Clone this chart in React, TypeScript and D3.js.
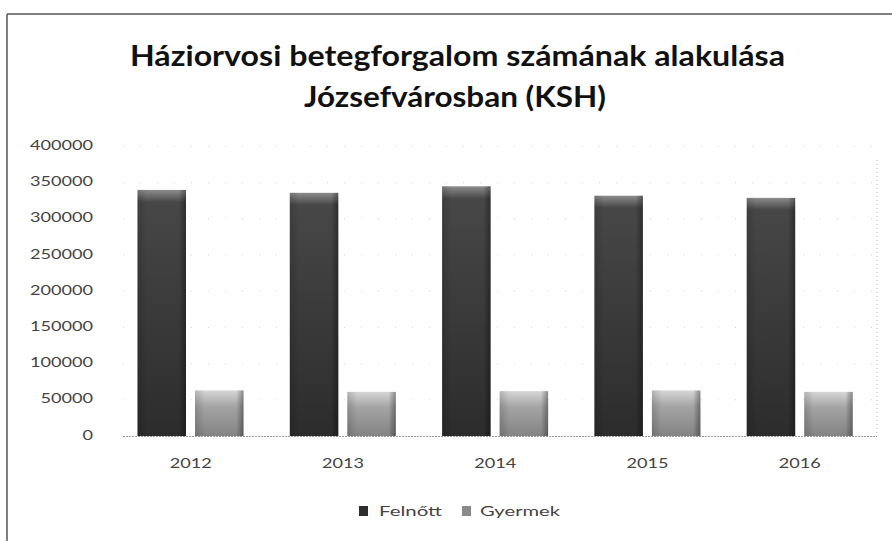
import React from 'react';
import * as d3 from 'd3';

const years = ['2012', '2013', '2014', '2015', '2016'];
const seriesNames = ['Felnőtt', 'Gyermek'];
const felnott = [340000, 336000, 345000, 332000, 329000];
const gyermek = [63000, 61000, 62000, 63000, 61000];
const yTicks = [0, 50000, 100000, 150000, 200000, 250000, 300000, 350000, 400000];
const titleLines = ['Háziorvosi betegforgalom számának alakulása', 'Józsefvárosban (KSH)'];

const W = 892;
const H = 541;

export default function App() {
  const x0 = d3.scaleBand<string>().domain(years).range([114.5, 876]).padding(0);
  const x1 = d3.scaleBand<string>().domain(seriesNames).range([23, 129]).paddingInner(0.157);
  const y = d3.scaleLinear().domain([0, 400000]).range([436, 146.5]);
  const values: Record<string, number[]> = { 'Felnőtt': felnott, 'Gyermek': gyermek };
  const fills: Record<string, string> = { 'Felnőtt': 'url(#gF)', 'Gyermek': 'url(#gG)' };
  const legendFill: Record<string, string> = { 'Felnőtt': '#2e2e2e', 'Gyermek': '#8a8a8a' };
  const axisFont = "Lato, 'Liberation Sans', Arial, sans-serif";
  const digitW = 10.5;

  return (
    <svg width={W} height={H} style={{ position: 'absolute', left: 0, top: 0, background: '#fff' }}>
      <defs>
        <linearGradient id="gF" x1="0" y1="0" x2="0" y2="1">
          <stop offset="0%" stopColor="#8c8c8c" />
          <stop offset="5%" stopColor="#474747" />
          <stop offset="100%" stopColor="#2c2c2c" />
        </linearGradient>
        <linearGradient id="gG" x1="0" y1="0" x2="0" y2="1">
          <stop offset="0%" stopColor="#d6d6d6" />
          <stop offset="35%" stopColor="#a4a4a4" />
          <stop offset="100%" stopColor="#838383" />
        </linearGradient>
        <linearGradient id="edge" x1="0" y1="0" x2="1" y2="0">
          <stop offset="0%" stopColor="#000" stopOpacity="0.15" />
          <stop offset="20%" stopColor="#000" stopOpacity="0" />
          <stop offset="85%" stopColor="#000" stopOpacity="0" />
          <stop offset="100%" stopColor="#000" stopOpacity="0.35" />
        </linearGradient>
      </defs>

      {/* frame */}
      <line x1={7} y1={14} x2={W} y2={14} stroke="#555" strokeWidth={1.5} />
      <line x1={7} y1={14} x2={7} y2={H} stroke="#555" strokeWidth={1.5} />

      {/* title */}
      {titleLines.map((t, i) => (
        <text
          key={t}
          x={i === 0 ? 457.5 : 455}
          y={i === 0 ? 59 : 100}
          textAnchor="middle"
          dominantBaseline="middle"
          fontFamily="Lato, 'Open Sans', 'Noto Sans', sans-serif"
          fontWeight="bold"
          fontSize={28}
          fill="#111"
          textLength={i === 0 ? 655 : 302}
          lengthAdjust="spacingAndGlyphs"
        >
          {t}
        </text>
      ))}

      {/* gridlines */}
      {yTicks.filter((t) => t > 0).map((t) => (
        <line key={'g' + t} x1={123} x2={877} y1={y(t)} y2={y(t)} stroke="#d4d4d4" strokeDasharray="1 16" strokeWidth={1} />
      ))}
      <line x1={877} x2={877} y1={160} y2={436} stroke="#b0b0b0" strokeDasharray="1 3" />

      {/* y axis labels */}
      {yTicks.map((t) => {
        const s = String(t);
        return (
          <text
            key={'y' + t}
            x={93}
            y={y(t)}
            textAnchor="end"
            dominantBaseline="middle"
            fontFamily={axisFont}
            fontSize={14}
            fill="#444"
            textLength={s.length * digitW}
            lengthAdjust="spacingAndGlyphs"
          >
            {s}
          </text>
        );
      })}

      {/* bars */}
      {years.map((yr, i) => (
        <g key={yr} transform={`translate(${x0(yr)},0)`}>
          {seriesNames.map((s) => {
            const v = values[s][i];
            const bx = x1(s)!;
            const bw = x1.bandwidth();
            return (
              <g key={s}>
                <rect x={bx} y={y(v)} width={bw} height={y(0) - y(v)} fill={fills[s]} />
                <rect x={bx} y={y(v)} width={bw} height={y(0) - y(v)} fill="url(#edge)" />
              </g>
            );
          })}
          <text
            x={x0.bandwidth() / 2}
            y={464}
            textAnchor="middle"
            dominantBaseline="middle"
            fontFamily={axisFont}
            fontSize={14}
            fill="#444"
            textLength={4 * digitW}
            lengthAdjust="spacingAndGlyphs"
          >
            {yr}
          </text>
        </g>
      ))}

      {/* baseline */}
      <line x1={123} x2={877} y1={436.5} y2={436.5} stroke="#999" strokeDasharray="2 1" />

      {/* legend */}
      {seriesNames.map((s, i) => {
        const lx = i === 0 ? 359 : 462;
        const tx = i === 0 ? 379 : 480;
        const tw = i === 0 ? 63 : 80;
        return (
          <g key={'l' + s}>
            <rect x={lx} y={506} width={9} height={10} fill={legendFill[s]} />
            <text
              x={tx}
              y={512}
              dominantBaseline="middle"
              fontFamily={axisFont}
              fontSize={14}
              fill="#444"
              textLength={tw}
              lengthAdjust="spacingAndGlyphs"
            >
              {s}
            </text>
          </g>
        );
      })}
    </svg>
  );
}
